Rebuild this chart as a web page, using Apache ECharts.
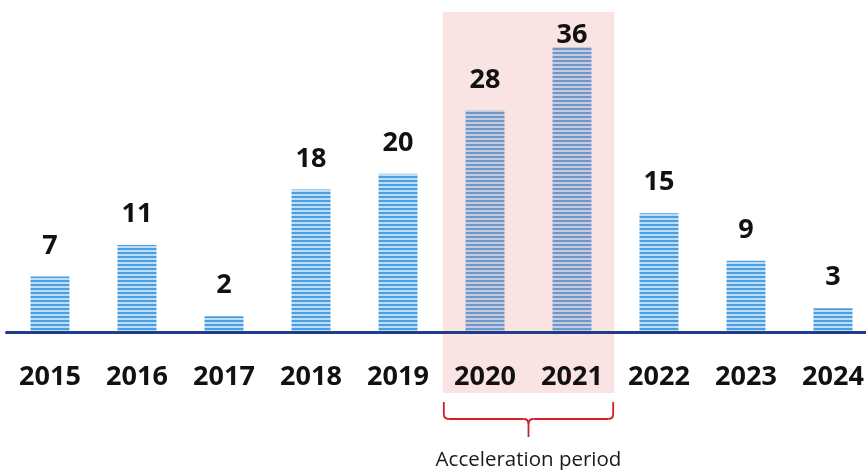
<!DOCTYPE html>
<html><head><meta charset="utf-8">
<script src="https://cdn.jsdelivr.net/npm/echarts@6/dist/echarts.min.js"></script>
<style>html,body{margin:0;padding:0;background:#fff}#c{width:866px;height:470px}</style>
</head><body><div id="c"></div>
<script>
const categories = ['2015','2016','2017','2018','2019','2020','2021','2022','2023','2024'];
const values = [7, 11, 2, 18, 20, 28, 36, 15, 9, 3];
const highlight = ['2020', '2021'];
const annotationText = 'Acceleration period';

// stripe pattern
const pc = document.createElement('canvas');
pc.width = 4; pc.height = 4;
const pctx = pc.getContext('2d');
pctx.fillStyle = '#bcdff7'; pctx.fillRect(0,0,4,4);
pctx.fillStyle = '#4a9de0'; pctx.fillRect(0,0,4,2);

const maxV = Math.max(...values);
const labelData = values.map(v => v === maxV
  ? {value: v, label: {distance: -2}}
  : v);

const chart = echarts.init(document.getElementById('c'), null, {renderer:'canvas'});
const font = '"Open Sans", "Liberation Sans", sans-serif';
chart.setOption({
  animation: false,
  grid: {left: 6.5, width: 870, top: 47, height: 285, containLabel: false, outerBoundsMode: 'none'},
  xAxis: {
    type: 'category', data: categories, z: 5,
    axisLine: {lineStyle: {color: '#1f3d8c', width: 3}},
    axisTick: {show: false},
    axisLabel: {color: '#111', fontSize: 27, fontWeight: 'bold', fontFamily: font, margin: 32}
  },
  yAxis: {type: 'value', min: 0, max: 36, show: false, splitLine: {show: false}},
  series: [
    {type: 'bar', data: values, barWidth: 39, z: 2,
     itemStyle: {color: {image: pc, repeat: 'repeat'}}},
    {type: 'bar', data: labelData, barWidth: 39, barGap: '-100%', z: 5,
     itemStyle: {color: 'rgba(0,0,0,0)'},
     label: {show: true, position: 'top', distance: 17, color: '#111', fontSize: 27,
             fontWeight: 'bold', fontFamily: font}}
  ]
});

const c0 = chart.convertToPixel({xAxisIndex: 0}, highlight[0]);
const c1 = chart.convertToPixel({xAxisIndex: 0}, highlight[1]);
const band = c1 - c0;
const left = c0 - band * 0.485;
const right = c1 + band * 0.485;
const mid = (left + right) / 2;
const r = 5;
const bt = 402, bh = 419, tip = 437;
const red = '#d02024';
const ls = {stroke: red, lineWidth: 1.8, fill: null};
chart.setOption({
  graphic: [
    {type: 'rect', z: 3, shape: {x: left, y: 12, width: right - left, height: 381},
     style: {fill: 'rgba(232,140,140,0.24)'}},
    {type: 'polyline', z: 3, shape: {points: [[left+1, bt], [left+1, bh-r]]}, style: ls},
    {type: 'bezierCurve', z: 3, shape: {x1: left+1, y1: bh-r, cpx1: left+1, cpy1: bh, x2: left+1+r, y2: bh}, style: ls},
    {type: 'polyline', z: 3, shape: {points: [[left+1+r, bh], [mid-r, bh]]}, style: ls},
    {type: 'bezierCurve', z: 3, shape: {x1: mid-r, y1: bh, cpx1: mid, cpy1: bh, x2: mid, y2: bh+5}, style: ls},
    {type: 'bezierCurve', z: 3, shape: {x1: mid+r, y1: bh, cpx1: mid, cpy1: bh, x2: mid, y2: bh+5}, style: ls},
    {type: 'polyline', z: 3, shape: {points: [[mid, bh+5], [mid, tip]]}, style: ls},
    {type: 'polyline', z: 3, shape: {points: [[mid+r, bh], [right-1-r, bh]]}, style: ls},
    {type: 'bezierCurve', z: 3, shape: {x1: right-1-r, y1: bh, cpx1: right-1, cpy1: bh, x2: right-1, y2: bh-r}, style: ls},
    {type: 'polyline', z: 3, shape: {points: [[right-1, bh-r], [right-1, bt]]}, style: ls},
    {type: 'text', z: 5, x: mid, y: 460,
     style: {text: annotationText, fill: '#1a1a1a', font: `20.5px ${font}`, align: 'center', verticalAlign: 'middle'}}
  ]
});
</script></body></html>
